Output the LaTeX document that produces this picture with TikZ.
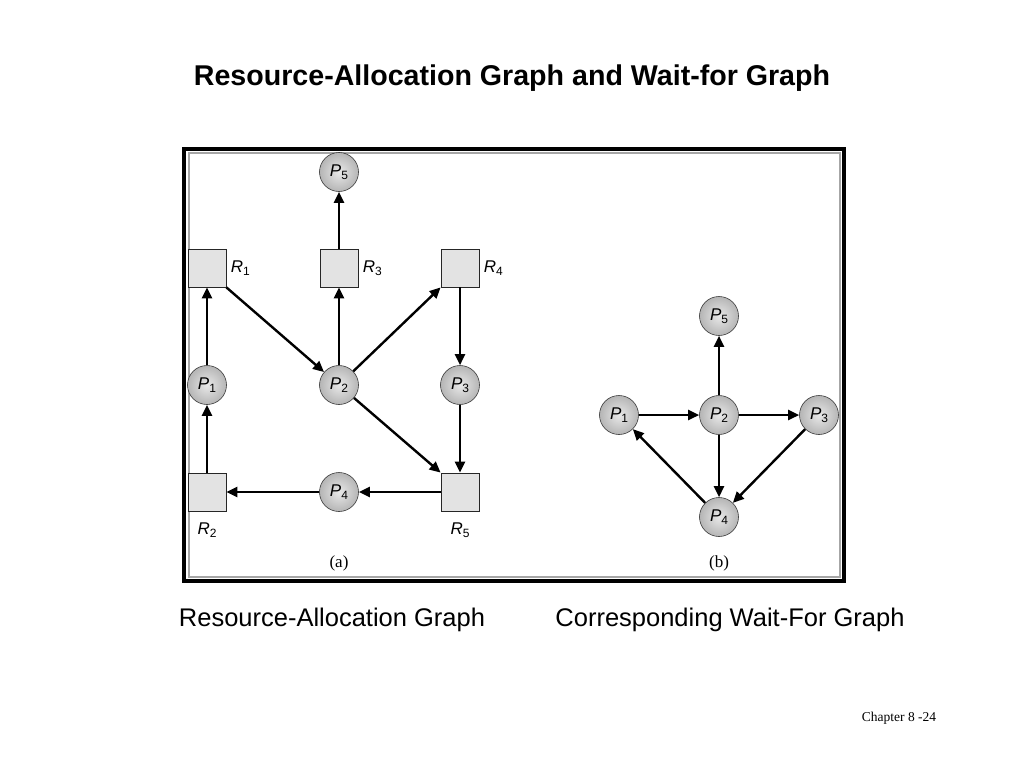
\documentclass[tikz,border=0pt]{standalone}
\usepackage{fontspec}
\setmainfont{Liberation Sans}
\newfontfamily\timesfont{Liberation Serif}
\usetikzlibrary{arrows.meta}

% italic name with upright subscript
\newcommand{\nm}[2]{\textit{#1}\raisebox{-3pt}{\fontsize{12}{14}\selectfont #2}}

\begin{document}
\begin{tikzpicture}[x=1pt, y=1pt]

    % Define styles
    \tikzstyle{proc} = [
        circle, minimum size=39pt, inner sep=0pt,
        draw=gray!45!black, line width=0.6pt,
        shading=radial, inner color=gray!18, outer color=gray!58,
        font=\fontsize{17}{19}\selectfont
    ]
    \tikzstyle{res} = [
        rectangle, minimum size=38pt, inner sep=0pt,
        draw=gray!30!black, line width=0.8pt, fill=gray!22
    ]
    \tikzstyle{lab} = [font=\fontsize{17}{19}\selectfont]
    \tikzstyle{arrow} = [line width=2.4pt, -{Triangle[length=11pt,width=10pt]}]
    \tikzstyle{caption} = [font=\fontsize{25.5}{30}\selectfont]

    \useasboundingbox (0,0) rectangle (1024,-768);

    % Title and frame
    \node[font=\fontsize{28.6}{32}\selectfont\bfseries] (title) at (512,-78)
        {Resource-Allocation Graph and Wait-for Graph};
    \draw[line width=4pt] (184,-149) rectangle (844,-581);
    \draw[gray!70, line width=1.2pt] (189,-153) rectangle (840,-577);

    % Nodes of (a)
    \node[res, label={[lab, xshift=1pt]right:\nm{R}{1}}] (r1) at (207,-268) {};
    \node[proc, node distance=117pt, below of=r1] (p1) {\nm{P}{1}};
    \node[res, node distance=107pt, below of=p1,
          label={[lab, yshift=-8pt]below:\nm{R}{2}}] (r2) {};
    \node[res, label={[lab, xshift=1pt]right:\nm{R}{3}}] (r3) at (339,-268) {};
    \node[proc, node distance=96pt, above of=r3] (p5) {\nm{P}{5}};
    \node[proc, node distance=117pt, below of=r3] (p2) {\nm{P}{2}};
    \node[proc, node distance=107pt, below of=p2] (p4) {\nm{P}{4}};
    \node[res, label={[lab, xshift=1pt]right:\nm{R}{4}}] (r4) at (460,-268) {};
    \node[proc, node distance=117pt, below of=r4] (p3) {\nm{P}{3}};
    \node[res, node distance=107pt, below of=p3,
          label={[lab, yshift=-8pt]below:\nm{R}{5}}] (r5) {};
    \node[font=\timesfont\fontsize{17}{20}\selectfont] (capa) at (339,-563) {(a)};

    % Nodes of (b)
    \node[proc] (q2) at (719,-415) {\nm{P}{2}};
    \node[proc, node distance=100pt, left of=q2] (q1) {\nm{P}{1}};
    \node[proc, node distance=100pt, right of=q2] (q3) {\nm{P}{3}};
    \node[proc, node distance=99pt, above of=q2] (q5) {\nm{P}{5}};
    \node[proc, node distance=102pt, below of=q2] (q4) {\nm{P}{4}};
    \node[font=\timesfont\fontsize{17}{20}\selectfont] (capb) at (719,-563) {(b)};

    % Arrows of (a)
    \draw[arrow] (r1.south east) -- (p2);
    \draw[arrow] (p2) -- (r3);
    \draw[arrow] (p2) -- (r4.south west);
    \draw[arrow] (r3) -- (p5);
    \draw[arrow] (r4) -- (p3);
    \draw[arrow] (p3) -- (r5);
    \draw[arrow] (p2) -- (r5.north west);
    \draw[arrow] (r5) -- (p4);
    \draw[arrow] (p4) -- (r2);
    \draw[arrow] (r2) -- (p1);
    \draw[arrow] (p1) -- (r1);

    % Arrows of (b)
    \draw[arrow] (q1) -- (q2);
    \draw[arrow] (q2) -- (q3);
    \draw[arrow] (q2) -- (q5);
    \draw[arrow] (q2) -- (q4);
    \draw[arrow] (q3) -- (q4);
    \draw[arrow] (q4) -- (q1);

    % Captions
    \node[caption] (cap1) at (332,-620) {Resource-Allocation Graph};
    \node[caption] (cap2) at (730,-620) {Corresponding Wait-For Graph};
    \node[font=\timesfont\fontsize{13.5}{16}\selectfont] (page) at (899,-718) {Chapter 8 -24};

\end{tikzpicture}
\end{document}
